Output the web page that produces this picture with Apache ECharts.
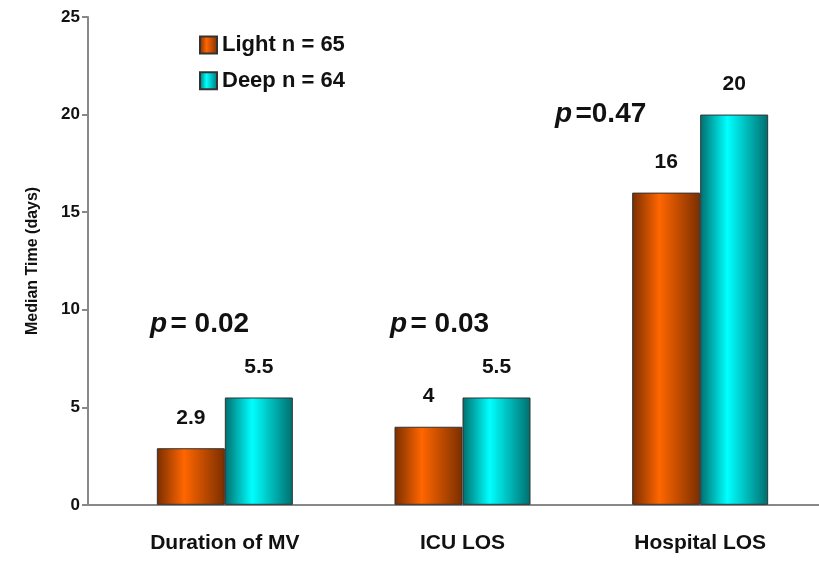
<!DOCTYPE html><html><head><script src="https://cdn.jsdelivr.net/npm/echarts@6/dist/echarts.min.js"></script></head><body style="margin:0"><div id="c" style="width:819px;height:561px"></div><script>
const categories=['Duration of MV','ICU LOS','Hospital LOS'];
const light=[2.9,4,16];
const deep=[5.5,5.5,20];
const pvals=['= 0.02','= 0.03','=0.47'];
const grad=(a,b)=>new echarts.graphic.LinearGradient(0,0,1,0,[{offset:0,color:a},{offset:0.4,color:b},{offset:1,color:a}]);
const c=echarts.init(document.getElementById('c'));
const F='Liberation Sans';
const lbl={show:true,position:'top',distance:12,fontFamily:F,fontWeight:'bold',fontSize:21,color:'#111'};
c.setOption({
 grid:{left:106,width:714,top:17,bottom:56},
 legend:{left:194,top:21,orient:'vertical',itemGap:-2,itemWidth:17,itemHeight:17,textStyle:{fontFamily:F,fontWeight:'bold',fontSize:22,color:'#111',lineHeight:28},data:[{name:'Light n = 65',icon:'rect'},{name:'Deep n = 64',icon:'rect'}]},
 xAxis:{type:'category',data:categories,axisTick:{show:false},axisLine:{lineStyle:{color:'#888',width:2}},axisLabel:{fontFamily:F,fontWeight:'bold',fontSize:21,color:'#111',margin:20}},
 yAxis:{type:'value',offset:18,min:0,max:25,interval:5,name:'Median Time (days)',nameLocation:'middle',nameGap:42,nameTextStyle:{fontFamily:F,fontWeight:'bold',fontSize:16,color:'#111'},splitLine:{show:false},axisLine:{show:true,lineStyle:{color:'#888',width:2}},axisTick:{show:true,inside:false,length:6,lineStyle:{color:'#888',width:2}},axisLabel:{fontFamily:F,fontWeight:'bold',fontSize:17,color:'#111'}},
 series:[
  {name:'Light n = 65',type:'bar',data:light,barWidth:68,barGap:'0%',itemStyle:{color:grad('#7a2e00','#ff6600'),borderColor:'#333',borderWidth:1},label:lbl},
  {name:'Deep n = 64',type:'bar',data:deep,barWidth:68,itemStyle:{color:grad('#006e6e','#00ffff'),borderColor:'#333',borderWidth:1},label:lbl}
 ],
 graphic:[{type:'line',shape:{x1:88,y1:505,x2:106,y2:505},style:{stroke:'#888',lineWidth:2}}].concat([[150,300],[390,300],[555,90]].map((p,i)=>({type:'text',left:p[0],top:p[1],style:{rich:{i:{fontStyle:'italic',fontWeight:'bold',fontSize:28,fontFamily:F,fill:'#111'},n:{fontWeight:'bold',fontSize:28,fontFamily:F,fill:'#111'}},text:'{i|p} {n|'+pvals[i]+'}'}})))
});
</script></body></html>
